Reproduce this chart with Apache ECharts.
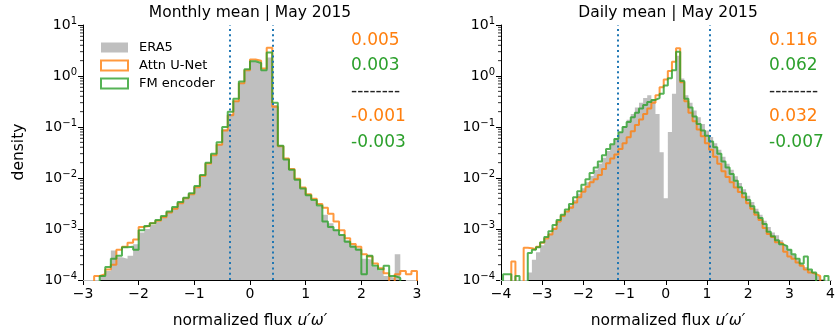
<!DOCTYPE html>
<html>
<head>
<meta charset="utf-8">
<script src="https://cdn.jsdelivr.net/npm/echarts@6/dist/echarts.min.js"></script>
<style>
html, body { margin: 0; padding: 0; background: #fff; }
#chart { width: 838px; height: 330px; }
</style>
</head>
<body>
<div id="chart"></div>
<script>
// histogram bins: width 0.1, monthly bins start at -3.0, daily bins at -4.05
var binWidth = 0.1;
var monthlyStart = -3.0;
var dailyStart = -4.05;

// monthly mean, density per bin (0 = empty bin)
var monthlyEra5 = [0, 0, 0, 1.2e-4, 1.5e-4, 3.8e-4, 2.8e-4, 2.6e-4, 3.0e-4, 5.0e-4,
  8.5e-4, 1.0e-3, 1.2e-3, 1.4e-3, 1.7e-3, 2.1e-3, 2.6e-3, 3.2e-3, 3.9e-3, 4.7e-3,
  6.5e-3, 1.05e-2, 1.8e-2, 2.8e-2, 4.6e-2, 9.0e-2, 0.18, 0.33, 0.72, 1.25,
  1.9, 1.8, 1.3, 2.3, 0.27, 0.042, 0.023, 0.0145, 9.3e-3, 6.2e-3,
  4.6e-3, 3.6e-3, 2.8e-3, 1.9e-3, 1.3e-3, 9.8e-4, 7.8e-4, 6.0e-4, 4.8e-4, 4.2e-4,
  2.6e-4, 2.5e-4, 1.8e-4, 1.5e-4, 1.2e-4, 1.1e-4, 3.2e-4, 1.0e-4, 0, 0];
var monthlyUnet = [0, 0, 1.2e-4, 1.3e-4, 1.6e-4, 2.0e-4, 3.9e-4, 4.5e-4, 5.4e-4, 6.2e-4,
  1.1e-3, 1.15e-3, 1.3e-3, 1.45e-3, 1.7e-3, 2.1e-3, 2.5e-3, 3.2e-3, 4.0e-3, 4.8e-3,
  6.6e-3, 1.1e-2, 1.9e-2, 2.8e-2, 4.5e-2, 8.5e-2, 0.17, 0.32, 0.72, 1.3,
  2.1, 2.0, 1.4, 3.6, 0.25, 0.042, 0.024, 0.015, 9.7e-3, 6.5e-3,
  4.8e-3, 3.9e-3, 3.1e-3, 2.6e-3, 2.0e-3, 1.4e-3, 9.5e-4, 6.6e-4, 5.1e-4, 4.5e-4,
  3.2e-4, 2.9e-4, 2.1e-4, 1.7e-4, 1.35e-4, 0, 1.3e-4, 1.5e-4, 1.3e-4, 1.5e-4];
var monthlyFm = [0, 0, 0, 1.2e-4, 1.8e-4, 2.6e-4, 3.0e-4, 4.4e-4, 4.5e-4, 3.9e-4,
  9.5e-4, 1.15e-3, 1.3e-3, 1.5e-3, 1.8e-3, 2.2e-3, 2.7e-3, 3.4e-3, 4.1e-3, 5.0e-3,
  7.0e-3, 1.15e-2, 2.0e-2, 3.0e-2, 5.0e-2, 0.1, 0.2, 0.36, 0.78, 1.35,
  1.95, 1.8, 1.3, 2.9, 0.3, 0.043, 0.023, 0.0145, 9.2e-3, 6.2e-3,
  4.6e-3, 3.7e-3, 2.9e-3, 1.4e-3, 1.1e-3, 9.5e-4, 7.6e-4, 5.6e-4, 4.5e-4, 3.9e-4,
  1.3e-4, 3.0e-4, 1.9e-4, 1.6e-4, 1.9e-4, 1.2e-4, 1.1e-4, 0, 0, 0];

// daily mean, density per bin (0 = empty bin)
var dailyEra5 = [0, 0, 0, 0, 0, 0, 0, 1.4e-4, 2.5e-4, 3.5e-4,
  4.8e-4, 6.3e-4, 8.3e-4, 1.07e-3, 1.38e-3, 1.78e-3, 2.24e-3, 2.9e-3, 3.7e-3, 4.9e-3,
  6.3e-3, 8.3e-3, 1.1e-2, 1.45e-2, 1.9e-2, 2.5e-2, 3.4e-2, 4.5e-2, 6.0e-2, 7.9e-2,
  0.105, 0.138, 0.18, 0.24, 0.30, 0.37, 0.42, 0.35, 0.18, 0.032,
  4.0e-3, 0.08, 0.45, 2.5, 0.89, 0.42, 0.3, 0.21, 0.155, 0.115,
  0.085, 0.064, 0.048, 0.036, 0.026, 0.019, 0.0145, 0.0108, 8.0e-3, 6.0e-3,
  4.5e-3, 3.4e-3, 2.5e-3, 1.9e-3, 1.45e-3, 1.1e-3, 8.5e-4, 7.5e-4, 6.0e-4, 4.8e-4,
  3.9e-4, 3.1e-4, 2.5e-4, 2.1e-4, 1.8e-4, 1.55e-4, 1.35e-4, 1.2e-4, 1.05e-4, 0, 0];
var dailyUnet = [0, 0, 0, 2.3e-4, 0, 0, 4.3e-4, 4.2e-4, 4.0e-4, 4.5e-4,
  5.4e-4, 6.5e-4, 7.8e-4, 1.0e-3, 1.4e-3, 1.8e-3, 2.2e-3, 2.6e-3, 3.3e-3, 4.2e-3,
  5.4e-3, 6.7e-3, 8.3e-3, 9.5e-3, 1.15e-2, 1.5e-2, 1.95e-2, 2.4e-2, 2.9e-2, 3.7e-2,
  4.8e-2, 6.3e-2, 8.3e-2, 0.11, 0.14, 0.18, 0.23, 0.3, 0.42, 0.6,
  0.85, 1.25, 1.9, 3.5, 0.75, 0.32, 0.19, 0.13, 0.089, 0.066,
  0.048, 0.036, 0.026, 0.019, 0.0135, 0.0105, 8.3e-3, 6.5e-3, 5.3e-3, 4.2e-3,
  3.2e-3, 2.5e-3, 1.9e-3, 1.5e-3, 1.05e-3, 8.0e-4, 7.0e-4, 5.5e-4, 5.2e-4, 3.6e-4,
  2.9e-4, 2.6e-4, 2.2e-4, 1.9e-4, 1.6e-4, 1.4e-4, 1.3e-4, 1.2e-4, 0, 0, 0];
var dailyFm = [0, 1.3e-4, 1.3e-4, 0, 1.2e-4, 0, 0, 3.4e-4, 3.9e-4, 4.4e-4,
  5.5e-4, 7.0e-4, 9.0e-4, 1.2e-3, 1.5e-3, 1.9e-3, 2.4e-3, 3.1e-3, 4.2e-3, 5.5e-3,
  7.4e-3, 9.5e-3, 1.25e-2, 1.6e-2, 2.1e-2, 2.8e-2, 3.7e-2, 4.6e-2, 5.8e-2, 7.9e-2,
  0.1, 0.125, 0.155, 0.19, 0.23, 0.27, 0.31, 0.34, 0.37, 0.45,
  0.65, 0.9, 1.3, 3.0, 0.8, 0.36, 0.24, 0.16, 0.115, 0.085,
  0.067, 0.052, 0.04, 0.03, 0.021, 0.016, 0.012, 8.8e-3, 6.6e-3, 5.0e-3,
  3.7e-3, 2.8e-3, 2.1e-3, 1.65e-3, 1.25e-3, 8.8e-4, 7.2e-4, 6.0e-4, 5.0e-4, 4.6e-4,
  3.9e-4, 3.2e-4, 2.6e-4, 2.1e-4, 2.9e-4, 1.6e-4, 1.4e-4, 0, 0, 1.2e-4, 0];

// dotted vertical reference lines
var monthlyLines = [-0.37, 0.41];
var dailyLines = [-1.17, 1.07];

// bias numbers written at the right of each panel
var monthlyStats = ['0.005', '0.003', '-0.001', '-0.003'];
var dailyStats = ['0.116', '0.062', '0.032', '-0.007'];

var titles = ['Monthly mean | May 2015', 'Daily mean | May 2015'];
var names = ['ERA5', 'Attn U-Net', 'FM encoder'];

var ORANGE = '#ff7f0e', GREEN = '#2ca02c', GRAY = '#bfbfbf', BLUE = '#1f77b4';
var FONT = '"DejaVu Sans", sans-serif';
var floorVal = 1e-7; // empty bins fall below the log axis

function histData(start, values) {
    var pts = values.map(function (v, i) {
        return [start + i * binWidth, v > 0 ? v : floorVal];
    });
    pts.push([start + values.length * binWidth, floorVal]);
    return pts;
}

// minor ticks of the log axis: 2..9 x 10^k
var minorVals = [];
for (var k = -4; k < 1; k++) {
    for (var m = 2; m <= 9; m++) minorVals.push(m * Math.pow(10, k));
}

var chart = echarts.init(document.getElementById('chart'));

function xAxisOf(idx, lo, hi) {
    return {
        gridIndex: idx, type: 'value', min: lo, max: hi, interval: 1,
        axisLine: {show: true, onZero: false, lineStyle: {color: '#000', width: 1}},
        axisTick: {show: true, length: 5, lineStyle: {color: '#000'}},
        splitLine: {show: false},
        axisLabel: {
            color: '#000', fontSize: 14, fontFamily: FONT, margin: 7,
            formatter: function (v) { return v < 0 ? '\u2212' + (-v) : '' + v; }
        }
    };
}

function yAxisOf(idx) {
    return {
        gridIndex: idx, type: 'log', logBase: 10, min: 1e-4, max: 10,
        axisLine: {show: true, onZero: false, lineStyle: {color: '#000', width: 1}},
        axisTick: {show: true, length: 5, lineStyle: {color: '#000'}},
        splitLine: {show: false},
        axisLabel: {
            color: '#000', fontSize: 14, fontFamily: FONT, margin: 6,
            formatter: function (v) {
                var e = Math.round(Math.log10(v));
                return '10{sup|' + (e < 0 ? '\u2212' + (-e) : e) + '}';
            },
            rich: {sup: {fontSize: 10, fontFamily: FONT, color: '#000', padding: [0, 0, 8, 0]}}
        }
    };
}

function panelSeries(idx, start, era5, unet, fm, vlines, xmin) {
    return [
        {
            type: 'line', name: names[0], xAxisIndex: idx, yAxisIndex: idx,
            step: 'end', symbol: 'none', data: histData(start, era5),
            color: GRAY, lineStyle: {opacity: 0},
            areaStyle: {color: GRAY, opacity: 1, origin: 'start'}, z: 1
        },
        {
            type: 'line', name: names[1], xAxisIndex: idx, yAxisIndex: idx,
            step: 'end', symbol: 'none', data: histData(start, unet),
            color: ORANGE, lineStyle: {color: ORANGE, width: 2, opacity: 0.8}, z: 2
        },
        {
            type: 'line', name: names[2], xAxisIndex: idx, yAxisIndex: idx,
            step: 'end', symbol: 'none', data: histData(start, fm),
            color: GREEN, lineStyle: {color: GREEN, width: 2, opacity: 0.8}, z: 3,
            markLine: {
                silent: true, symbol: ['none', 'none'], label: {show: false},
                lineStyle: {color: BLUE, type: [2, 3.3], width: 2},
                data: vlines.map(function (v) { return {xAxis: v}; })
            }
        },
        {
            type: 'custom', xAxisIndex: idx, yAxisIndex: idx, z: 5,
            data: minorVals.map(function (v) { return [xmin, v]; }),
            encode: {x: 0, y: 1},
            renderItem: function (params, api) {
                var p = api.coord([api.value(0), api.value(1)]);
                return {
                    type: 'line',
                    shape: {x1: p[0] - 3, y1: p[1], x2: p[0], y2: p[1]},
                    style: {stroke: '#000', lineWidth: 0.8}
                };
            }
        }
    ];
}

function statTexts(x, stats) {
    var ys = [41, 66, 92, 117, 143];
    var items = [
        {t: stats[0], c: ORANGE}, {t: stats[1], c: GREEN}, {t: '--------', c: '#222'},
        {t: stats[2], c: ORANGE}, {t: stats[3], c: GREEN}
    ];
    return items.map(function (it, i) {
        return {
            type: 'text', x: x, y: ys[i],
            style: {text: it.t, fill: it.c, font: '17px ' + FONT, verticalAlign: 'middle'}
        };
    });
}

function centered(text, x, y, size, extra) {
    var st = {text: text, fill: '#000', font: size + 'px ' + FONT, align: 'center', verticalAlign: 'middle'};
    if (extra) for (var key in extra) st[key] = extra[key];
    return {type: 'text', x: x, y: y, style: st};
}

var axisName = 'normalized flux {i|u\u2032\u03c9\u2032}';
var richName = {i: {fontStyle: 'italic', fontSize: 15.5, fontFamily: FONT, fill: '#000'}};

var option = {
    animation: false,
    grid: [
        {left: 83, top: 25, width: 334, height: 255},
        {left: 501, top: 25, width: 334, height: 255}
    ],
    xAxis: [xAxisOf(0, -3, 3), xAxisOf(1, -4, 4)],
    yAxis: [yAxisOf(0), yAxisOf(1)],
    legend: {
        orient: 'vertical', left: 95, top: 36, itemWidth: 27, itemHeight: 10, itemGap: 5,
        selectedMode: false,
        textStyle: {fontSize: 13, color: '#000', fontFamily: FONT, padding: [0, 0, 0, 6]},
        data: [
            {name: names[0], icon: 'rect', itemStyle: {color: GRAY, borderWidth: 0}},
            {name: names[1], icon: 'rect', itemStyle: {color: 'rgba(0,0,0,0)', borderColor: ORANGE, borderWidth: 2, opacity: 0.8}},
            {name: names[2], icon: 'rect', itemStyle: {color: 'rgba(0,0,0,0)', borderColor: GREEN, borderWidth: 2, opacity: 0.8}}
        ]
    },
    graphic: [].concat(
        [
            centered(titles[0], 250, 13, 15.5),
            centered(titles[1], 668, 13, 15.5),
            centered(axisName, 250, 321, 15.5, {rich: richName}),
            centered(axisName, 668, 321, 15.5, {rich: richName}),
            {
                type: 'text', x: 19, y: 152, rotation: Math.PI / 2,
                style: {text: 'density', fill: '#000', font: '15.5px ' + FONT, align: 'center', verticalAlign: 'middle'}
            }
        ],
        statTexts(351, monthlyStats),
        statTexts(769, dailyStats)
    ),
    series: [].concat(
        panelSeries(0, monthlyStart, monthlyEra5, monthlyUnet, monthlyFm, monthlyLines, -3),
        panelSeries(1, dailyStart, dailyEra5, dailyUnet, dailyFm, dailyLines, -4)
    )
};

chart.setOption(option);
</script>
</body>
</html>
